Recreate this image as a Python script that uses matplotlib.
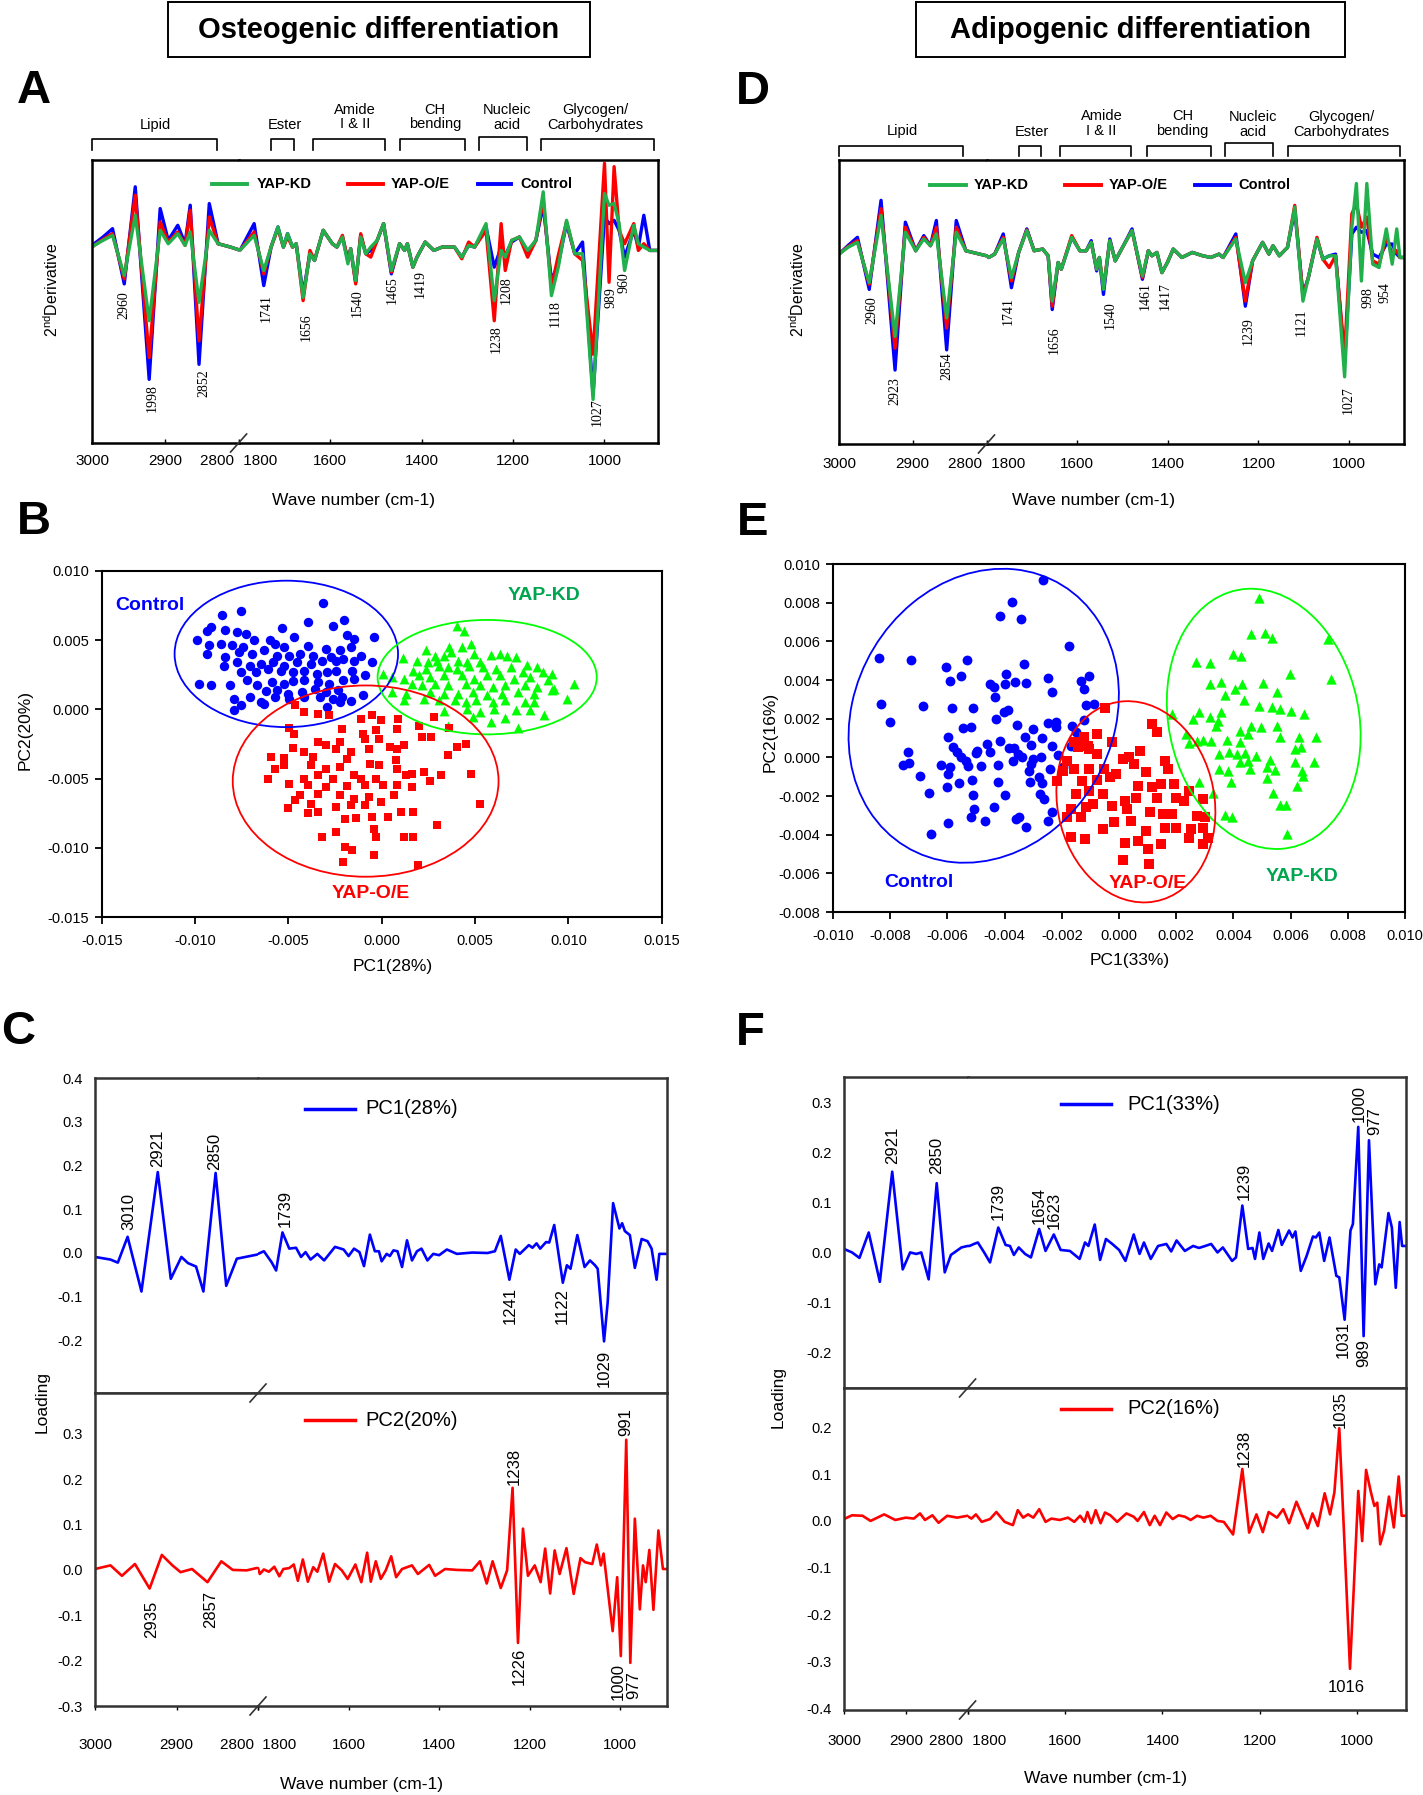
import numpy as np
import matplotlib.pyplot as plt
from matplotlib.patches import Ellipse, Rectangle
from matplotlib.lines import Line2D
from matplotlib.ticker import FuncFormatter

plt.rcParams['font.family'] = ['Liberation Sans', 'DejaVu Sans']
plt.rcParams['mathtext.fontset'] = 'custom'
plt.rcParams['mathtext.rm'] = 'Liberation Sans'

BLUE = '#0000ff'
RED = '#ff0000'
GREEN = '#21b04b'
LIME = '#00ff00'
DKGREEN = '#00a550'

# ---------------- panel A: 2nd derivative spectra (osteogenic) ----------------
a_wn_l = [3000, 2997, 2985, 2972, 2956, 2941, 2922, 2907, 2896, 2883, 2873, 2866, 2854, 2840, 2828, 2811, 2800]
a_kd_l = [0.05, 0.10, 0.25, 0.40, -0.80, 1.00, -2.15, 0.55, 0.15, 0.45, 0.10, 0.50, -1.60, 0.55, 0.15, 0.05, -0.03]
a_oe_l = [0.05, 0.10, 0.28, 0.45, -0.90, 1.60, -3.25, 0.80, 0.20, 0.50, 0.10, 1.15, -2.75, 0.95, 0.15, 0.05, -0.03]
a_ct_l = [0.08, 0.15, 0.35, 0.60, -1.05, 1.85, -3.90, 1.20, 0.25, 0.70, 0.15, 1.30, -3.45, 1.35, 0.15, 0.05, -0.03]

a_wn_r = [1800, 1796, 1766, 1745, 1729, 1714, 1702, 1693, 1682, 1674,
          1659, 1644, 1634, 1615, 1595, 1585, 1573, 1561, 1555, 1544,
          1533, 1522, 1511, 1497, 1483, 1466, 1448, 1437, 1431, 1419,
          1410, 1392, 1373, 1355, 1328, 1312, 1297, 1284, 1259, 1241,
          1226, 1217, 1203, 1186, 1168, 1150, 1134, 1116, 1101, 1083,
          1065, 1048, 1025, 1000, 990, 979, 968, 956, 936, 926,
          914, 901, 883]
a_kd_r = [-0.03, -0.03, 0.40, -0.65, 0.05, 0.65, 0.05, 0.45, 0.05, 0.15,
          -1.45, -0.15, -0.35, 0.55, 0.15, 0.05, 0.35, -0.45, 0.00, -0.95,
          0.35, -0.15, 0.05, 0.25, 0.75, -0.65, 0.15, -0.05, 0.15, -0.55,
          -0.25, 0.20, -0.05, 0.05, 0.05, -0.25, 0.10, 0.05, 0.75, -1.55,
          -0.05, -0.25, 0.25, 0.35, -0.05, 0.25, 1.70, -1.40, -0.55, 0.85,
          -0.15, -0.15, -4.50, 1.65, 1.30, 1.35, 0.75, -0.65, 0.70, 0.15,
          0.05, -0.05, -0.05]
a_oe_r = [-0.03, -0.03, 0.50, -0.75, 0.05, 0.60, 0.05, 0.35, 0.05, 0.15,
          -1.55, -0.05, -0.35, 0.55, 0.15, 0.05, 0.40, -0.35, 0.00, -1.05,
          0.45, -0.15, -0.25, 0.25, 0.75, -0.70, 0.15, -0.05, 0.15, -0.55,
          -0.25, 0.20, -0.05, 0.05, 0.05, -0.30, 0.20, 0.05, 0.55, -2.15,
          0.75, -0.65, 0.25, 0.35, -0.25, 0.25, 1.45, -1.15, -0.20, 0.80,
          -0.15, -0.35, -3.15, 2.55, -1.00, 2.45, 0.55, 0.15, 0.75, -0.05,
          0.15, -0.05, -0.05]
a_ct_r = [-0.03, -0.03, 0.75, -1.10, 0.05, 0.65, 0.05, 0.45, 0.05, 0.15,
          -1.35, -0.15, -0.35, 0.55, 0.15, 0.05, 0.35, -0.35, 0.00, -1.00,
          0.40, -0.15, -0.05, 0.25, 0.75, -0.75, 0.15, -0.05, 0.15, -0.55,
          -0.25, 0.20, -0.05, 0.05, 0.05, -0.25, 0.10, 0.05, 0.65, -0.55,
          0.05, -0.20, 0.20, 0.35, -0.10, 0.25, 1.30, -0.95, -0.45, 0.75,
          -0.15, 0.20, -4.35, 0.95, 0.75, 0.85, 0.55, -0.25, 0.55, 0.05,
          1.00, -0.05, -0.05]

# ---------------- panel D: 2nd derivative spectra (adipogenic) ----------------
d_wn_l = [3000, 2988, 2975, 2959, 2943, 2924, 2910, 2896, 2885, 2876, 2868, 2854, 2841, 2828, 2800]
d_kd_l = [0.0, 0.20, 0.35, -0.85, 1.15, -2.45, 0.65, 0.10, 0.45, 0.25, 0.60, -1.90, 0.65, 0.10, -0.05]
d_oe_l = [0.0, 0.22, 0.40, -0.90, 1.35, -2.80, 0.80, 0.10, 0.50, 0.25, 0.80, -2.20, 0.80, 0.10, -0.05]
d_ct_l = [0.0, 0.25, 0.50, -1.05, 1.60, -3.45, 0.95, 0.10, 0.55, 0.25, 1.00, -2.85, 1.00, 0.10, -0.05]

d_wn_r = [1800, 1795, 1782, 1763, 1745, 1729, 1711, 1695, 1676, 1664,
          1655, 1642, 1635, 1612, 1594, 1580, 1569, 1557, 1551, 1542,
          1528, 1516, 1498, 1479, 1456, 1443, 1435, 1424, 1413, 1401,
          1388, 1369, 1346, 1323, 1305, 1287, 1278, 1250, 1229, 1213,
          1191, 1177, 1168, 1154, 1136, 1120, 1102, 1090, 1071, 1058,
          1044, 1030, 1010, 994, 984, 973, 961, 948, 934, 918,
          905, 895, 888, 879]
d_kd_r = [-0.05, -0.10, 0.00, 0.45, -0.70, 0.05, 0.70, 0.10, 0.15, -0.05,
          -1.40, -0.25, -0.45, 0.50, 0.10, 0.10, 0.35, -0.45, -0.10, -1.05,
          0.40, -0.20, 0.25, 0.70, -0.65, 0.10, -0.05, 0.05, -0.55, -0.25,
          0.15, -0.10, 0.05, -0.05, -0.10, 0.00, -0.10, 0.45, -0.85, -0.20,
          0.35, 0.00, 0.25, -0.05, 0.20, 1.40, -1.40, -0.70, 0.45, -0.15,
          -0.05, -0.05, -3.65, 0.80, 2.10, -0.80, 2.10, -0.30, -0.40, 0.75,
          -0.30, 0.75, -0.10, -0.10]
d_oe_r = [-0.05, -0.10, 0.00, 0.50, -0.80, 0.05, 0.72, 0.10, 0.15, -0.05,
          -1.55, -0.25, -0.45, 0.55, 0.10, 0.10, 0.35, -0.45, -0.10, -1.00,
          0.40, -0.20, 0.25, 0.70, -0.70, 0.10, -0.05, 0.05, -0.55, -0.25,
          0.15, -0.10, 0.05, -0.05, -0.10, 0.00, -0.10, 0.50, -1.40, -0.20,
          0.35, 0.00, 0.25, -0.05, 0.20, 1.45, -1.25, -0.70, 0.50, -0.15,
          -0.40, -0.05, -3.00, 1.20, 1.50, 0.80, 1.10, -0.20, -0.30, 0.50,
          0.00, 0.10, -0.10, -0.10]
d_ct_r = [-0.05, -0.10, 0.00, 0.60, -1.00, 0.05, 0.75, 0.10, 0.15, -0.05,
          -1.65, -0.25, -0.45, 0.50, 0.10, 0.10, 0.40, -0.50, -0.10, -1.20,
          0.45, -0.20, 0.25, 0.75, -0.75, 0.10, -0.05, 0.05, -0.55, -0.25,
          0.15, -0.10, 0.05, -0.05, -0.10, 0.00, -0.10, 0.60, -1.55, -0.20,
          0.35, 0.00, 0.25, -0.05, 0.20, 1.30, -1.20, -0.70, 0.45, -0.15,
          -0.05, 0.00, -3.20, 0.60, 0.80, 0.65, 0.70, 0.00, -0.10, 0.30,
          0.30, 0.00, -0.10, -0.10]

# ---------------- panel C: PCA loadings (osteogenic) ----------------
c1_wn_l = [3000, 2981, 2972, 2960, 2943, 2923, 2907, 2894, 2886, 2876, 2867, 2852, 2839, 2826, 2802, 2800]
c1_val_l = [-0.009, -0.015, -0.022, 0.037, -0.088, 0.185, -0.059, -0.009, -0.023, -0.031, -0.088, 0.183, -0.075, -0.013, -0.004, -0.003]
c1_wn_r = [1800, 1787, 1770, 1760, 1746, 1731, 1716, 1705, 1695, 1684,
           1669, 1654, 1630, 1611, 1600, 1588, 1576, 1566, 1553, 1542,
           1533, 1527, 1516, 1509, 1501, 1492, 1482, 1471, 1460, 1449,
           1439, 1426, 1413, 1400, 1383, 1361, 1327, 1293, 1277, 1264,
           1245, 1231, 1222, 1202, 1194, 1185, 1177, 1164, 1157, 1146,
           1127, 1118, 1110, 1095, 1079, 1067, 1056, 1050, 1036, 1028,
           1016, 1002, 996, 990, 979, 968, 953, 940, 931, 920,
           914, 907, 897]
c1_val_r = [-0.002, 0.004, -0.021, -0.040, 0.047, 0.010, 0.012, -0.009, 0.002, -0.015,
            -0.002, -0.017, 0.014, 0.008, -0.007, 0.010, 0.002, -0.030, 0.042, 0.004,
            0.004, -0.019, -0.002, -0.007, 0.006, 0.004, -0.032, 0.029, -0.017, 0.004,
            0.010, -0.017, -0.002, -0.005, 0.008, -0.002, 0.001, 0.000, 0.004, 0.039,
            -0.061, 0.008, -0.002, 0.018, 0.012, 0.022, 0.010, 0.025, 0.024, 0.064,
            -0.068, -0.028, -0.036, 0.041, -0.032, -0.017, -0.028, -0.036, -0.202, -0.113,
            0.114, 0.056, 0.068, 0.050, 0.041, -0.034, 0.032, 0.027, 0.010, -0.061,
            -0.002, -0.002, -0.002]

c2_wn_l = [3000, 2981, 2967, 2951, 2933, 2918, 2905, 2895, 2881, 2862, 2845, 2831, 2814, 2802, 2800]
c2_val_l = [0.002, 0.010, -0.013, 0.013, -0.041, 0.033, 0.010, -0.005, 0.002, -0.027, 0.019, 0.000, -0.001, 0.004, 0.004]
c2_wn_r = [1800, 1796, 1787, 1776, 1764, 1753, 1744, 1731, 1721, 1712,
           1701, 1690, 1678, 1669, 1656, 1643, 1630, 1615, 1602, 1585,
           1572, 1559, 1551, 1540, 1529, 1518, 1506, 1495, 1482, 1460,
           1447, 1422, 1409, 1387, 1361, 1327, 1310, 1295, 1282, 1264,
           1250, 1238, 1226, 1215, 1204, 1189, 1176, 1166, 1155, 1145,
           1134, 1119, 1103, 1088, 1078, 1062, 1052, 1043, 1037, 1017,
           1007, 999, 987, 978, 968, 957, 950, 944, 936, 927,
           916, 906, 897]
c2_val_r = [0.004, -0.009, 0.001, -0.004, 0.007, -0.014, 0.002, 0.004, 0.012, -0.024,
            0.023, -0.026, 0.006, -0.004, 0.036, -0.026, 0.013, -0.001, -0.020, 0.012,
            -0.027, 0.038, -0.026, 0.019, -0.020, -0.001, 0.030, -0.016, 0.002, 0.010,
            -0.009, 0.011, -0.013, 0.002, 0.000, -0.001, 0.019, -0.030, 0.019, -0.040,
            -0.001, 0.181, -0.161, 0.091, -0.013, 0.010, -0.027, 0.047, -0.052, 0.043,
            -0.009, 0.048, -0.053, 0.026, 0.017, 0.013, 0.056, 0.010, 0.036, -0.135,
            -0.016, -0.190, 0.287, -0.205, 0.113, -0.087, 0.010, -0.027, 0.044, -0.088,
            0.087, 0.002, 0.002]

# ---------------- panel F: PCA loadings (adipogenic) ----------------
f1_wn_l = [3000, 2987, 2975, 2960, 2942, 2922, 2905, 2893, 2883, 2875, 2863, 2850, 2837, 2827, 2810, 2800]
f1_val_l = [0.007, 0.000, -0.011, 0.040, -0.059, 0.162, -0.034, 0.000, -0.003, 0.000, -0.054, 0.139, -0.040, -0.005, 0.010, 0.013]
f1_wn_r = [1800, 1796, 1787, 1779, 1766, 1754, 1737, 1722, 1713, 1705,
           1695, 1682, 1670, 1653, 1640, 1623, 1609, 1590, 1570, 1559,
           1552, 1539, 1528, 1516, 1503, 1489, 1476, 1459, 1447, 1438,
           1424, 1409, 1392, 1382, 1371, 1354, 1337, 1325, 1312, 1300,
           1287, 1276, 1257, 1249, 1236, 1224, 1215, 1210, 1201, 1193,
           1182, 1175, 1162, 1155, 1140, 1133, 1127, 1116, 1104, 1091,
           1085, 1078, 1068, 1057, 1043, 1037, 1026, 1014, 1009, 998,
           987, 976, 963, 955, 950, 936, 929, 921, 913, 908,
           900]
f1_val_r = [0.013, 0.013, 0.017, 0.020, 0.000, -0.020, 0.050, 0.015, 0.013, -0.005,
            0.010, -0.003, -0.010, 0.047, 0.003, 0.036, 0.005, 0.003, -0.013, 0.020,
            0.013, 0.056, -0.015, 0.027, 0.017, 0.005, -0.017, 0.036, -0.003, 0.020,
            -0.013, 0.013, 0.017, 0.002, 0.024, 0.003, 0.013, 0.009, 0.013, 0.017,
            0.000, 0.010, -0.017, -0.010, 0.094, 0.007, 0.009, -0.013, 0.040, -0.013,
            0.018, 0.003, 0.045, 0.015, 0.044, 0.030, 0.042, -0.037, -0.007, 0.032,
            0.030, 0.040, -0.017, 0.030, -0.047, -0.050, -0.135, 0.044, 0.057, 0.252,
            -0.168, 0.225, -0.064, -0.024, -0.030, 0.079, 0.050, -0.071, 0.061, 0.013,
            0.013]

f2_wn_l = [3000, 2987, 2970, 2957, 2935, 2917, 2900, 2887, 2877, 2869, 2857, 2847, 2833, 2817, 2800]
f2_val_l = [0.004, 0.012, 0.011, 0.000, 0.014, 0.002, 0.007, 0.005, 0.016, 0.002, 0.012, -0.004, 0.011, 0.007, 0.011]
f2_wn_r = [1800, 1792, 1783, 1771, 1754, 1741, 1724, 1707, 1697, 1686,
           1676, 1665, 1653, 1640, 1628, 1611, 1594, 1581, 1569, 1560,
           1554, 1546, 1537, 1527, 1518, 1507, 1493, 1474, 1459, 1451,
           1438, 1426, 1416, 1405, 1392, 1379, 1367, 1354, 1342, 1329,
           1316, 1301, 1287, 1274, 1255, 1236, 1222, 1207, 1194, 1182,
           1165, 1152, 1140, 1125, 1110, 1102, 1092, 1081, 1067, 1056,
           1047, 1037, 1026, 1015, 1007, 998, 990, 982, 972, 965,
           959, 953, 945, 935, 925, 915, 909, 900]
f2_val_r = [0.010, 0.005, 0.014, -0.002, 0.004, 0.019, -0.002, -0.009, 0.023, 0.007,
            0.014, 0.007, 0.025, -0.002, 0.005, 0.002, 0.007, -0.002, 0.011, -0.002,
            0.019, -0.005, 0.023, -0.005, 0.018, 0.012, -0.002, 0.016, 0.009, 0.000,
            0.019, -0.009, 0.011, -0.009, 0.018, 0.004, 0.012, 0.009, 0.002, 0.011,
            0.007, 0.011, 0.000, -0.002, -0.029, 0.111, -0.025, 0.014, -0.024, 0.019,
            0.007, 0.025, -0.005, 0.041, 0.004, -0.016, 0.016, -0.011, 0.059, 0.014,
            0.061, 0.198, -0.054, -0.316, -0.139, 0.064, -0.043, 0.109, 0.061, 0.032,
            0.039, -0.050, -0.021, 0.052, -0.014, 0.095, 0.011, 0.011]

# ---------------- panel B: PCA scores (x1e-3), osteogenic ----------------
b_ctrl = [(-3.17, 7.67), (-8.53, 6.85), (-7.53, 7.14), (-2.01, 6.49), (-3.97, 6.35), (-5.32, 5.87), (-2.63, 6.01),
          (-9.17, 5.94), (-9.36, 5.63), (-8.40, 5.75), (-9.90, 5.05), (-7.73, 5.58), (-7.28, 5.46), (-4.70, 5.26),
          (-0.41, 5.22), (-1.86, 5.34), (-1.47, 5.10), (-6.86, 4.98), (-5.99, 4.98), (-9.26, 4.62), (-8.59, 4.74),
          (-8.01, 4.62), (-7.44, 4.50), (-5.71, 4.74), (-5.22, 4.50), (-3.97, 4.57), (-3.01, 4.38), (-2.24, 4.26),
          (-1.66, 4.50), (-9.36, 4.01), (-8.40, 3.77), (-7.63, 4.13), (-6.96, 4.01), (-6.28, 4.26), (-5.61, 3.89),
          (-4.94, 3.89), (-4.36, 4.01), (-3.68, 3.89), (-2.72, 3.77), (-2.05, 3.65), (-1.09, 3.85), (-8.44, 3.17),
          (-7.73, 3.41), (-7.05, 3.17), (-6.47, 3.29), (-5.80, 3.41), (-5.22, 3.17), (-4.55, 3.41), (-3.78, 3.29),
          (-3.20, 3.53), (-2.43, 3.53), (-1.47, 3.53), (-0.51, 3.41), (-7.53, 2.69), (-6.76, 2.69), (-6.09, 2.93),
          (-5.42, 2.81), (-4.74, 2.69), (-4.17, 2.74), (-3.49, 2.57), (-2.92, 2.69), (-2.43, 2.81), (-1.57, 2.81),
          (-0.90, 2.45), (-9.78, 1.85), (-9.17, 1.78), (-8.11, 1.73), (-7.24, 2.09), (-6.67, 1.73), (-5.90, 1.97),
          (-5.22, 1.85), (-4.74, 2.02), (-4.17, 2.09), (-3.40, 1.97), (-2.82, 1.85), (-2.05, 2.09), (-1.47, 2.21),
          (-6.19, 1.30), (-5.61, 1.37), (-5.03, 1.13), (-4.26, 1.25), (-3.59, 1.44), (-3.01, 1.25), (-2.34, 1.37),
          (-0.99, 1.01), (-7.92, 0.77), (-7.05, 0.89), (-6.47, 0.53), (-5.71, 0.89), (-4.94, 0.77), (-4.17, 0.89),
          (-3.30, 0.89), (-2.63, 0.77), (-2.15, 0.89), (-1.66, 0.58), (-7.92, -0.07), (-7.53, 0.29), (-6.28, 0.41),
          (-2.92, 0.17), (-2.24, 0.53)]
b_kd = [(4.01, 5.99), (4.40, 5.63), (4.78, 4.74), (3.63, 4.50), (4.30, 4.50), (2.38, 4.26), (2.86, 3.89), (3.34, 3.89),
        (3.72, 4.13), (4.97, 4.01), (5.84, 3.94), (6.32, 4.01), (6.70, 3.89), (7.19, 3.77), (1.13, 3.70), (1.89, 3.53),
        (2.47, 3.41), (2.95, 3.53), (4.11, 3.53), (4.59, 3.41), (5.26, 3.41), (7.76, 3.22), (8.34, 3.05), (1.70, 2.81),
        (2.38, 2.93), (3.05, 3.17), (3.53, 3.05), (4.01, 2.93), (4.68, 3.17), (5.45, 3.05), (6.13, 2.93), (6.90, 3.05),
        (7.57, 2.69), (8.63, 2.69), (9.11, 2.57), (0.07, 2.57), (0.55, 2.33), (1.22, 2.21), (1.99, 2.45), (2.57, 2.33),
        (3.34, 2.45), (4.30, 2.45), (4.97, 2.21), (5.65, 2.45), (6.32, 2.45), (7.09, 2.21), (7.96, 2.33), (8.92, 2.09),
        (10.30, 1.85), (1.61, 1.85), (2.18, 1.73), (2.86, 1.85), (3.53, 1.73), (4.49, 1.85), (5.26, 1.73), (5.94, 1.61),
        (6.61, 1.73), (7.67, 1.73), (8.34, 1.61), (9.21, 1.49), (0.55, 1.25), (1.32, 1.13), (2.57, 1.25), (3.34, 1.13),
        (4.11, 1.13), (4.88, 1.25), (5.65, 1.01), (6.42, 1.13), (7.28, 1.25), (8.15, 1.13), (9.11, 1.37), (1.22, 0.65),
        (2.28, 0.77), (3.05, 0.65), (3.91, 0.65), (4.49, 0.53), (5.07, 0.65), (5.94, 0.53), (6.61, 0.65), (7.67, 0.53),
        (8.15, 0.53), (9.92, 0.77), (3.34, -0.14), (4.59, 0.05), (5.26, -0.19), (6.03, 0.05), (7.19, -0.07),
        (7.96, -0.07), (8.72, -0.43), (4.88, -0.55), (5.84, -0.91), (6.61, -0.63), (7.28, -1.35), (3.53, -1.20)]
b_oe = [(-4.65, 0.34), (-4.17, -0.19), (-3.40, -0.31), (-2.82, -0.43), (-1.09, -0.67), (-0.51, -0.43), (-0.03, -0.79),
        (0.87, -0.67), (1.99, -1.20), (2.80, -0.55), (3.63, -1.35), (-4.94, -1.35), (-4.70, -1.75), (-2.15, -1.39),
        (-0.99, -1.75), (-0.32, -1.51), (0.84, -1.39), (2.18, -2.00), (2.66, -2.00), (-3.40, -2.36), (-3.01, -2.60),
        (-2.24, -2.36), (-0.90, -2.12), (-0.13, -2.12), (0.45, -2.72), (1.22, -2.60), (4.01, -2.72), (4.49, -2.48),
        (-4.74, -2.79), (-4.17, -3.08), (-2.43, -2.88), (-1.66, -3.08), (-0.70, -2.84), (0.84, -2.84), (-5.94, -3.44),
        (-5.22, -3.51), (-3.68, -3.44), (-1.86, -3.56), (0.74, -3.68), (3.53, -3.32), (-5.71, -4.28), (-5.22, -4.04),
        (-3.78, -4.04), (-3.01, -4.28), (-2.24, -4.16), (-0.61, -3.92), (-0.13, -4.04), (0.84, -4.33), (1.61, -4.64),
        (2.28, -4.52), (-6.09, -5.00), (-4.17, -5.00), (-3.40, -4.76), (-2.63, -5.00), (-1.47, -4.76), (-1.09, -5.00),
        (-0.32, -5.00), (1.32, -4.76), (2.57, -5.19), (3.15, -4.76), (4.78, -4.64), (-4.94, -5.36), (-3.97, -5.48),
        (-3.01, -5.60), (-1.86, -5.53), (-0.90, -5.48), (0.07, -5.48), (0.84, -5.48), (1.61, -5.60), (-4.36, -6.20),
        (-3.40, -6.08), (-2.24, -6.20), (-1.47, -6.44), (-0.70, -6.32), (-0.03, -6.68), (0.64, -6.20), (-4.65, -6.56),
        (-3.78, -6.80), (-2.43, -7.04), (-1.66, -6.92), (-0.90, -6.92), (5.26, -6.80), (-5.03, -7.16), (-3.97, -7.52),
        (-3.40, -7.40), (-1.95, -7.89), (-1.38, -7.84), (-0.51, -7.76), (0.36, -7.76), (1.03, -7.40), (1.70, -7.40),
        (2.95, -8.37), (-2.43, -8.85), (-3.20, -9.21), (-0.41, -8.61), (-0.32, -9.21), (1.22, -9.21), (1.70, -9.21),
        (-1.95, -9.93), (-1.57, -10.17), (-0.41, -10.53), (-2.05, -11.06), (1.95, -11.25)]

# ellipses: (centre x, centre y, width, height, angle)
b_ell = {'ctrl': (-5.11, 4.01, 11.97, 10.58, 0), 'kd': (5.65, 2.33, 11.74, 8.27, 0), 'oe': (-0.86, -5.18, 14.24, 13.82, 0)}

# ---------------- panel E: PCA scores (x1e-3), adipogenic ----------------
e_ctrl = [(-2.66, 9.17), (-3.74, 8.05), (-4.16, 7.30), (-3.43, 7.18), (-1.76, 5.74), (-8.39, 5.16), (-7.26, 5.02),
          (-5.32, 5.02), (-6.05, 4.67), (-3.32, 4.85), (-5.52, 4.21), (-5.91, 3.95), (-3.94, 4.29), (-3.65, 3.89),
          (-4.00, 3.81), (-3.24, 3.84), (-2.49, 4.12), (-1.33, 3.93), (-1.04, 4.19), (-4.50, 3.77), (-4.37, 3.63),
          (-1.23, 3.55), (-2.33, 3.37), (-4.33, 3.11), (-8.31, 2.77), (-6.84, 2.68), (-5.85, 2.56), (-5.12, 2.56),
          (-1.17, 2.72), (-0.88, 2.77), (-3.87, 2.46), (-4.03, 2.34), (-8.02, 1.82), (-4.31, 1.96), (-3.58, 1.68),
          (-2.49, 1.77), (-2.20, 1.82), (-2.22, 1.56), (-1.23, 1.94), (-1.63, 1.64), (-1.50, 1.30), (-5.45, 1.51),
          (-5.19, 1.56), (-2.99, 1.44), (-5.98, 1.04), (-4.17, 0.83), (-3.28, 1.07), (-2.68, 0.99), (-4.60, 0.69),
          (-5.81, 0.55), (-3.67, 0.48), (-3.08, 0.66), (-2.35, 0.57), (-1.69, 0.60), (-7.39, 0.29), (-5.65, 0.26),
          (-4.96, 0.31), (-4.50, 0.26), (-3.83, 0.48), (-3.54, 0.17), (-5.52, 0.00), (-5.36, -0.17), (-4.99, 0.21),
          (-3.38, 0.00), (-3.01, -0.09), (-2.72, 0.03), (-2.12, 0.12), (-7.56, -0.38), (-7.36, -0.31), (-6.24, -0.38),
          (-5.91, -0.52), (-5.28, -0.43), (-4.83, -0.47), (-4.24, -0.38), (-3.70, -0.17), (-3.08, -0.35), (-2.42, -0.61),
          (-1.96, -0.48), (-5.98, -0.87), (-6.97, -0.99), (-3.15, -0.73), (-2.78, -1.00), (-5.61, -1.35), (-6.02, -1.51),
          (-5.15, -1.16), (-4.23, -1.30), (-3.11, -1.30), (-2.68, -1.35), (-6.64, -1.87), (-5.10, -1.96), (-4.00, -1.96),
          (-2.75, -1.90), (-2.62, -2.16), (-5.06, -2.68), (-5.19, -3.08), (-4.36, -2.59), (-2.33, -2.82), (-3.61, -3.20),
          (-3.51, -3.11), (-4.69, -3.29), (-5.98, -3.41), (-3.25, -3.60), (-2.49, -3.29), (-6.57, -3.98)]
e_oe = [(-0.48, 2.56), (1.14, 1.73), (1.34, 1.30), (-0.77, 1.21), (-1.23, 1.04), (-0.24, 0.78), (-1.56, 0.78),
        (-1.10, 0.61), (-1.43, 0.52), (-1.83, -0.17), (-1.04, 0.43), (-0.77, 0.17), (0.74, 0.35), (0.15, -0.09),
        (0.35, 0.03), (0.52, -0.35), (1.60, -0.17), (1.73, -0.61), (-1.96, -0.69), (-1.56, -0.61), (-1.04, -0.61),
        (-0.51, -0.61), (-0.11, -0.87), (0.94, -0.78), (-2.16, -1.21), (-1.30, -1.21), (-0.77, -1.18), (-0.31, -1.04),
        (0.68, -1.47), (1.14, -1.56), (1.47, -1.38), (1.93, -1.38), (2.46, -1.73), (-1.50, -1.90), (-1.04, -1.73),
        (-0.57, -1.90), (0.22, -2.25), (0.61, -2.08), (1.34, -2.08), (2.00, -2.08), (2.26, -2.25), (2.92, -2.16),
        (-1.69, -2.68), (-1.17, -2.59), (-0.90, -2.42), (-0.24, -2.51), (0.28, -2.68), (1.07, -2.85), (1.54, -2.94),
        (1.87, -2.94), (2.72, -3.03), (2.99, -3.11), (-1.83, -3.11), (-1.33, -3.11), (-0.57, -3.72), (-0.18, -3.37),
        (0.42, -3.29), (0.94, -3.81), (1.60, -3.63), (2.00, -3.63), (2.52, -3.72), (2.92, -3.63), (3.12, -4.15),
        (-1.69, -4.12), (-1.19, -4.24), (0.22, -4.41), (0.68, -4.33), (1.47, -4.50), (2.46, -4.15), (2.92, -4.46),
        (1.01, -4.76), (0.15, -5.33), (1.05, -5.50)]
e_kd = [(4.90, 8.22), (4.63, 6.40), (5.10, 6.44), (5.36, 6.19), (7.31, 6.14), (3.97, 5.36), (4.28, 5.23), (2.70, 4.93),
        (3.18, 4.88), (5.99, 4.33), (7.40, 4.07), (3.18, 3.81), (3.58, 3.89), (4.07, 3.55), (4.30, 3.77), (5.03, 3.84),
        (3.71, 3.20), (4.37, 2.94), (5.53, 3.37), (4.90, 2.65), (5.36, 2.60), (5.62, 2.51), (6.02, 2.39), (6.48, 2.25),
        (1.87, 2.25), (2.79, 2.34), (3.55, 2.34), (3.18, 2.08), (2.59, 1.99), (3.45, 1.90), (4.63, 1.64), (4.96, 1.56),
        (4.24, 1.38), (5.53, 1.61), (4.50, 1.21), (3.38, 1.64), (2.33, 1.21), (2.72, 0.87), (2.92, 0.90), (3.21, 0.83),
        (3.78, 0.92), (4.24, 0.78), (5.62, 1.07), (6.28, 1.04), (6.90, 1.04), (2.46, 0.73), (6.15, 0.43), (6.35, 0.52),
        (3.51, 0.17), (3.84, 0.26), (4.11, 0.17), (4.40, 0.21), (4.79, 0.09), (4.50, -0.17), (4.24, -0.26), (5.27, -0.14),
        (6.15, -0.22), (6.81, -0.26), (3.51, -0.61), (3.82, -0.69), (4.57, -0.61), (5.16, -0.52), (5.45, -0.66),
        (6.41, -0.73), (6.45, -0.95), (5.19, -1.07), (3.91, -1.25), (2.79, -1.25), (3.29, -1.82), (6.24, -1.47),
        (5.40, -1.87), (5.62, -2.46), (5.85, -2.46), (3.71, -2.98), (3.95, -3.08), (5.89, -3.98)]
e_ell = {'ctrl': (-4.73, 2.15, 9.3, 15.3, -8), 'kd': (5.06, 1.99, 6.7, 13.5, 5), 'oe': (0.59, -2.30, 5.52, 10.43, 4.3)}

# ============================ figure ============================
W, H = 1423, 1795
fig = plt.figure(figsize=(W / 100, H / 100), dpi=100)


def box(l, t, r, b):
    return [l / W, 1 - b / H, (r - l) / W, (b - t) / H]


def ftext(x, y, s, **kw):
    fig.text(x / W, 1 - y / H, s, **kw)


def fline(xs, ys, **kw):
    fig.add_artist(Line2D([x / W for x in xs], [1 - y / H for y in ys], transform=fig.transFigure, **kw))


def split_axes(l, t, r, b, split, xend, ylim, lw=1.8, color='black'):
    axl = fig.add_axes(box(l, t, split, b))
    axr = fig.add_axes(box(split, t, r, b))
    axl.set_xlim(3000, 2800)
    axr.set_xlim(1800, xend)
    for ax in (axl, axr):
        ax.set_ylim(*ylim)
        for s in ax.spines.values():
            s.set_linewidth(lw)
            s.set_color(color)
        ax.tick_params(axis='x', labelbottom=False, bottom=False)
        ax.tick_params(axis='y', left=False, labelleft=False)
    axl.spines['right'].set_visible(False)
    axr.spines['left'].set_visible(False)
    return axl, axr


def wn_ticks(axl, axr, pad, size=11, length=3, direction='in'):
    axl.set_xticks([3000, 2900, 2800], ['3000', '2900', '2800 '])
    axr.set_xticks([1800, 1600, 1400, 1200, 1000], [' 1800', '1600', '1400', '1200', '1000'])
    for ax in (axl, axr):
        ax.tick_params(axis='x', bottom=True, labelbottom=True, labelsize=size, pad=pad,
                       length=length, direction=direction, width=1)
    axl.get_xticklabels()[-1].set_ha('right')
    axr.get_xticklabels()[0].set_ha('left')


def slash(x, y):
    fline([x - 8, x + 8], [y + 9, y - 9], color='#333333', lw=1.2)


def plot_split(axl, axr, wl, yl, wr, yr, color, lw):
    kw = dict(color=color, lw=lw, solid_joinstyle='round', solid_capstyle='round', clip_on=True)
    axl.plot(wl, yl, **kw)
    axr.plot(wr, yr, **kw)


# ---- titles and panel letters ----
for (l, r, txt) in [(168, 590, 'Osteogenic differentiation'), (916, 1345, 'Adipogenic differentiation')]:
    fig.add_artist(Rectangle((l / W, 1 - 57 / H), (r - l) / W, 55 / H, transform=fig.transFigure,
                             fill=False, lw=1.4, ec='black'))
    ftext((l + r) / 2, 30, txt, ha='center', va='center', fontsize=21, fontweight='bold')

for (x, y, s) in [(34, 91, 'A'), (753, 92, 'D'), (34, 522, 'B'), (753, 523, 'E'), (18, 1032, 'C'), (750, 1033, 'F')]:
    ftext(x, y, s, ha='center', va='center', fontsize=34, fontweight='bold')

# ---- panel A ----
axAl, axAr = split_axes(92, 160, 658, 443, 238.6, 883, (-5.8, 2.65))
for wl, yl, wr, yr, c in [(a_wn_l, a_ct_l, a_wn_r, a_ct_r, BLUE), (a_wn_l, a_oe_l, a_wn_r, a_oe_r, RED),
                          (a_wn_l, a_kd_l, a_wn_r, a_kd_r, GREEN)]:
    plot_split(axAl, axAr, wl, yl, wr, yr, c, 2.4)
wn_ticks(axAl, axAr, pad=8)
slash(238.6, 443)

# ---- panel D ----
axDl, axDr = split_axes(839, 160, 1404, 444, 986.5, 879, (-5.65, 2.8))
for wl, yl, wr, yr, c in [(d_wn_l, d_ct_l, d_wn_r, d_ct_r, BLUE), (d_wn_l, d_oe_l, d_wn_r, d_oe_r, RED),
                          (d_wn_l, d_kd_l, d_wn_r, d_kd_r, GREEN)]:
    plot_split(axDl, axDr, wl, yl, wr, yr, c, 2.4)
wn_ticks(axDl, axDr, pad=9)
slash(986.5, 444)

# legends, brackets, region labels for A and D
for y, items in [(184, [(212, 247, 257, GREEN, 'YAP-KD'), (348, 383, 391, RED, 'YAP-O/E'), (478, 511, 520, BLUE, 'Control')]),
                 (185, [(930, 966, 974, GREEN, 'YAP-KD'), (1065, 1101, 1109, RED, 'YAP-O/E'), (1195, 1230, 1238, BLUE, 'Control')])]:
    for x0, x1, xt, c, s in items:
        fline([x0, x1], [y, y], color=c, lw=2.8)
        ftext(xt, y, s, ha='left', va='center', fontsize=10.5, fontweight='bold')

regions_A = [(92, 217, 139, 'Lipid', 155, 125), (271, 294, 139, 'Ester', 285, 125),
             (313, 385, 139, 'Amide\nI & II', 355, 117), (400, 465, 139, 'CH\nbending', 435, 117),
             (479, 527, 136.5, 'Nucleic\nacid', 507, 117.5), (541, 654, 139, 'Glycogen/\nCarbohydrates', 595, 117.5)]
regions_D = [(839, 963, 146, 'Lipid', 902.5, 131.5), (1018.5, 1040.5, 146, 'Ester', 1032, 131.5),
             (1060, 1131, 146, 'Amide\nI & II', 1101.5, 123.5), (1147, 1211, 146, 'CH\nbending', 1182.5, 123.5),
             (1225, 1273, 142.5, 'Nucleic\nacid', 1253, 124.5), (1288, 1400, 146, 'Glycogen/\nCarbohydrates', 1341.5, 124.5)]
for regs, foot in [(regions_A, 149.5), (regions_D, 156)]:
    for x0, x1, yt, s, tx, ty in regs:
        fline([x0, x0, x1, x1], [foot, yt, yt, foot], color='black', lw=1.2)
        ftext(tx, ty, s, ha='center', va='center', fontsize=10.5, linespacing=1.05)

ftext(52, 290, '2$^{\\rm nd}$Derivative', rotation=90, ha='center', va='center', fontsize=11.5)
ftext(798, 290, '2$^{\\rm nd}$Derivative', rotation=90, ha='center', va='center', fontsize=11.5)
ftext(353, 500, 'Wave number (cm-1)', ha='center', va='center', fontsize=12.5)
ftext(1093, 501, 'Wave number (cm-1)', ha='center', va='center', fontsize=12.5)

peaks_A = [('2960', 124, 305), ('1998', 152, 398), ('2852', 204, 383), ('1741', 266, 308), ('1656', 306, 327),
           ('1540', 357.5, 303), ('1465', 392.5, 290), ('1419', 420, 284), ('1238', 496, 339), ('1208', 506.5, 290),
           ('1118', 555.5, 314), ('1027', 597, 412), ('989', 611, 298), ('960', 623.5, 283)]
peaks_D = [('2960', 871.5, 310), ('2923', 895, 391), ('2854', 947, 366), ('1741', 1008.5, 311.5), ('1656', 1054, 340.5),
           ('1540', 1110.5, 315), ('1461', 1145, 296.5), ('1417', 1165, 296.5), ('1239', 1248, 331.5),
           ('1121', 1301.5, 322.5), ('1027', 1348, 400), ('998', 1368.5, 298), ('954', 1385, 293)]
for s, x, y in peaks_A + peaks_D:
    ftext(x, y, s, rotation=90, ha='center', va='center', fontsize=10, family='Liberation Serif')

# ---- panels B and E: scores ----
fmt3 = FuncFormatter(lambda v, p: f'{v / 1000:.3f}')


def score_axes(rect, xlim, ylim, xt, yt):
    ax = fig.add_axes(box(*rect))
    ax.set_xlim(*xlim)
    ax.set_ylim(*ylim)
    ax.set_xticks(xt)
    ax.set_yticks(yt)
    ax.xaxis.set_major_formatter(fmt3)
    ax.yaxis.set_major_formatter(fmt3)
    ax.tick_params(direction='out', length=5, width=1.3, labelsize=10.5)
    ax.tick_params(axis='x', pad=7)
    ax.tick_params(axis='y', pad=4)
    for s in ax.spines.values():
        s.set_linewidth(1.5)
    return ax


axB = score_axes((101.7, 571, 661.7, 917), (-15, 15), (-15, 10), range(-15, 16, 5), range(-15, 11, 5))
axE = score_axes((833, 564, 1405, 912), (-10, 10), (-8, 10), range(-10, 11, 2), range(-8, 11, 2))

for ax, ctrl, oe, kd, ell, sz in [(axB, b_ctrl, b_oe, b_kd, b_ell, 46), (axE, e_ctrl, e_oe, e_kd, e_ell, 50)]:
    c = np.array(ctrl)
    o = np.array(oe)
    k = np.array(kd)
    ax.scatter(c[:, 0], c[:, 1], s=sz, marker='o', color=BLUE, linewidths=0, zorder=3)
    ax.scatter(k[:, 0], k[:, 1], s=sz * 1.1, marker='^', color=LIME, linewidths=0, zorder=3)
    ax.scatter(o[:, 0], o[:, 1], s=sz * 0.9, marker='s', color=RED, linewidths=0, zorder=4)
    for key, col in [('ctrl', BLUE), ('kd', LIME), ('oe', RED)]:
        x, y, w, h, ang = ell[key]
        ax.add_patch(Ellipse((x, y), w, h, angle=ang, fill=False, ec=col, lw=1.3, zorder=5))

axB.text(-12.4, 7.5, 'Control', color=BLUE, fontsize=14, fontweight='bold', ha='center', va='center')
axB.text(8.7, 8.25, 'YAP-KD', color=DKGREEN, fontsize=14, fontweight='bold', ha='center', va='center')
axB.text(-0.6, -13.3, 'YAP-O/E', color=RED, fontsize=14, fontweight='bold', ha='center', va='center')
axE.text(-7.0, -6.45, 'Control', color=BLUE, fontsize=14, fontweight='bold', ha='center', va='center')
axE.text(1.0, -6.5, 'YAP-O/E', color=RED, fontsize=14, fontweight='bold', ha='center', va='center', zorder=6)
axE.text(6.4, -6.15, 'YAP-KD', color=DKGREEN, fontsize=14, fontweight='bold', ha='center', va='center')

ftext(25, 730, 'PC2(20%)', rotation=90, ha='center', va='center', fontsize=12.5)
ftext(393, 967, 'PC1(28%)', ha='center', va='center', fontsize=12.5)
ftext(770, 732, 'PC2(16%)', rotation=90, ha='center', va='center', fontsize=12.5)
ftext(1130, 960, 'PC1(33%)', ha='center', va='center', fontsize=12.5)


# ---- panels C and F: loadings ----
def loading_pair(l, r, t, mid, b, split, xend, ylim_top, ylim_bot, yt_top, yt_bot, pad):
    top = split_axes(l, t, r, mid, split, xend, ylim_top, color='#333333')
    bot = split_axes(l, mid, r, b, split, xend, ylim_bot, color='#333333')
    for (axl, axr), yt in [(top, yt_top), (bot, yt_bot)]:
        axl.tick_params(axis='y', left=True, labelleft=True, length=0, pad=9, labelsize=10.5)
        axl.set_yticks(yt, [f'{v:.1f}' for v in yt])
    wn_ticks(bot[0], bot[1], pad=pad, length=3, direction='out')
    slash(split, mid)
    slash(split, b)
    return top, bot


(cTl, cTr), (cBl, cBr) = loading_pair(95, 667, 1078, 1393, 1706, 258, 897, (-0.32, 0.40), (-0.30, 0.39),
                                      [-0.2, -0.1, 0.0, 0.1, 0.2, 0.3, 0.4], [-0.3, -0.2, -0.1, 0.0, 0.1, 0.2, 0.3], 20)
plot_split(cTl, cTr, c1_wn_l, c1_val_l, c1_wn_r, c1_val_r, BLUE, 1.9)
plot_split(cBl, cBr, c2_wn_l, c2_val_l, c2_wn_r, c2_val_r, RED, 1.9)

(fTl, fTr), (fBl, fBr) = loading_pair(844, 1406, 1077, 1388, 1710, 967.6, 900, (-0.272, 0.352), (-0.404, 0.284),
                                      [-0.2, -0.1, 0.0, 0.1, 0.2, 0.3], [-0.4, -0.3, -0.2, -0.1, 0.0, 0.1, 0.2], 14)
plot_split(fTl, fTr, f1_wn_l, f1_val_l, f1_wn_r, f1_val_r, BLUE, 1.9)
plot_split(fBl, fBr, f2_wn_l, f2_val_l, f2_wn_r, f2_val_r, RED, 1.9)

for x0, x1, xt, y, c, s in [(305, 355, 365, 1109, BLUE, 'PC1(28%)'), (305, 355, 365, 1420, RED, 'PC2(20%)'),
                            (1061, 1111, 1127, 1104, BLUE, 'PC1(33%)'), (1061, 1111, 1127, 1409, RED, 'PC2(16%)')]:
    fline([x0, x1], [y, y], color=c, lw=2.5)
    ftext(xt, y, s, ha='left', va='center', fontsize=14.5)

ftext(42, 1402, 'Loading', rotation=90, ha='center', va='center', fontsize=12.5)
ftext(778, 1397, 'Loading', rotation=90, ha='center', va='center', fontsize=12.5)
ftext(361, 1784, 'Wave number (cm-1)', ha='center', va='center', fontsize=12.5)
ftext(1105, 1779, 'Wave number (cm-1)', ha='center', va='center', fontsize=12.5)

peaks_C = [('3010', 129, 1211.5), ('2921', 158, 1148), ('2850', 215, 1151.5), ('1739', 285, 1208), ('1241', 510.5, 1305),
           ('1122', 562, 1306.5), ('1029', 604.5, 1368), ('2935', 151.5, 1619), ('2857', 211, 1609), ('1238', 514.5, 1466),
           ('1226', 519, 1666.5), ('991', 626, 1422.5), ('1000', 618.5, 1681.5), ('977', 634, 1685)]
peaks_F = [('2921', 893, 1145), ('2850', 937, 1155), ('1739', 998, 1201.5), ('1654', 1039.5, 1205), ('1623', 1054.5, 1210),
           ('1239', 1244, 1181.5), ('1000', 1359, 1103), ('977', 1375, 1121.5), ('1031', 1343, 1340), ('989', 1363.5, 1353),
           ('1238', 1244, 1448), ('1035', 1340, 1410)]
for s, x, y in peaks_C + peaks_F:
    ftext(x, y, s, rotation=90, ha='center', va='center', fontsize=12)
ftext(1346, 1688, '1016', ha='center', va='center', fontsize=12)

fig.savefig('out.png', dpi=100)
